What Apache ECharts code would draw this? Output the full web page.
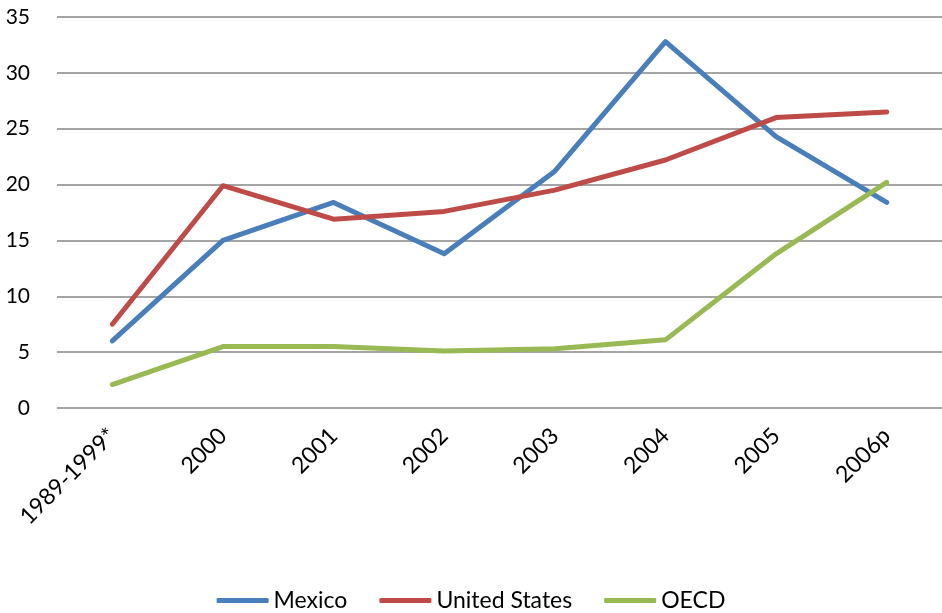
<!DOCTYPE html>
<html>
<head>
<meta charset="utf-8">
<script src="https://cdn.jsdelivr.net/npm/echarts@6/dist/echarts.min.js"></script>
<style>
  html, body { margin: 0; padding: 0; background: #fff; }
  #chart { width: 942px; height: 613px; }
</style>
</head>
<body>
<div id="chart"></div>
<script>
// categories and series
var categories = ['1989-1999*', '2000', '2001', '2002', '2003', '2004', '2005', '2006p'];
var mexico = [6.0, 15.0, 18.4, 13.8, 21.2, 32.8, 24.3, 18.4];
var unitedStates = [7.5, 19.9, 16.9, 17.6, 19.5, 22.2, 26.0, 26.5];
var oecd = [2.1, 5.5, 5.5, 5.1, 5.3, 6.1, 13.8, 20.2];

var font = 'Lato, "Open Sans", sans-serif';

var chart = echarts.init(document.getElementById('chart'));

function line(name, data, color) {
  return {
    name: name,
    type: 'line',
    data: data,
    symbol: 'none',
    lineStyle: { width: 5, color: color, cap: 'round', join: 'round' },
    itemStyle: { color: color }
  };
}

var option = {
  animation: false,
  textStyle: { fontFamily: font },
  grid: { left: 57, right: 0, top: 17, bottom: 205 },
  legend: {
    bottom: -4,
    left: 'center',
    itemWidth: 52,
    itemHeight: 5,
    itemGap: 32,
    icon: 'roundRect',
    textStyle: { fontSize: 23, color: '#000', fontFamily: font },
    data: ['Mexico', 'United States', 'OECD']
  },
  xAxis: {
    type: 'category',
    data: categories,
    boundaryGap: true,
    axisLine: { show: false },
    axisTick: { show: false },
    axisLabel: { rotate: 45, fontSize: 23, color: '#000', margin: 24, interval: 0 }
  },
  yAxis: {
    type: 'value',
    min: 0,
    max: 35,
    interval: 5,
    axisLine: { show: false },
    axisTick: { show: false },
    axisLabel: { fontSize: 21, color: '#000', margin: 27, align: 'right' },
    splitLine: { lineStyle: { color: '#868686', width: 1.5 } }
  },
  series: [
    line('Mexico', mexico, '#4A7EBB'),
    line('United States', unitedStates, '#BE4B48'),
    line('OECD', oecd, '#98B954')
  ]
};

chart.setOption(option);
</script>
</body>
</html>
